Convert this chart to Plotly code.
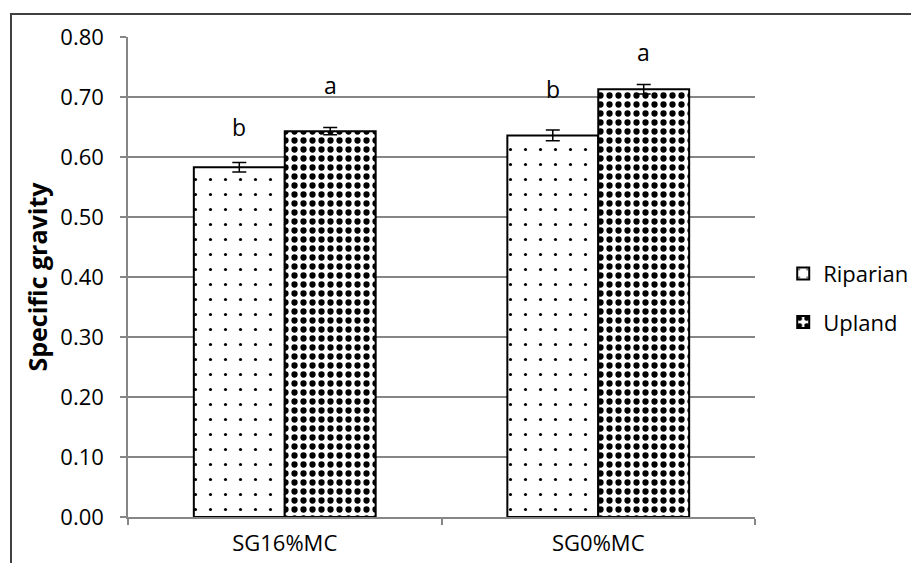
import plotly.graph_objects as go

categories = ["SG16%MC", "SG0%MC"]
series_names = ["Riparian", "Upland"]
riparian = [0.583, 0.636]
riparian_err = [0.008, 0.009]
upland = [0.643, 0.713]
upland_err = [0.006, 0.008]
riparian_letters = ["b", "b"]
upland_letters = ["a", "a"]
riparian_letter_y = [0.633, 0.697]
upland_letter_y = [0.703, 0.758]
y_ticks = [0.0, 0.1, 0.2, 0.3, 0.4, 0.5, 0.6, 0.7, 0.8]

FONT = "Open Sans"
GRID = "#868686"

# page body has an 8px margin; margins compensate so the plot lands where the reference has it
W, H = 919, 563
ML, MR, MT, MB = 120, 172, 29, 54
plot_w = W - ML - MR
plot_h = H - MT - MB

fig = go.Figure()
fig.add_trace(go.Bar(
    name=series_names[0], x=categories, y=riparian, legendgroup="r",
    marker=dict(color="white", line=dict(color="black", width=2),
                pattern=dict(shape=".", size=15, solidity=0.035,
                             fgcolor="black", bgcolor="white", fillmode="replace")),
    error_y=dict(type="data", array=riparian_err, color="black", thickness=1.5, width=7),
))
fig.add_trace(go.Bar(
    name=series_names[1], x=categories, y=upland, legendgroup="u",
    marker=dict(color="white", line=dict(color="black", width=2),
                pattern=dict(shape=".", size=9, solidity=0.38,
                             fgcolor="black", bgcolor="white", fillmode="replace")),
    error_y=dict(type="data", array=upland_err, color="black", thickness=1.5, width=7),
))

bargap = 0.42
bar_px = plot_w / len(categories) * (1 - bargap) / 2
annotations = []
for i, c in enumerate(categories):
    annotations.append(dict(x=c, y=riparian_letter_y[i], xref="x", yref="y", text=riparian_letters[i],
                            showarrow=False, xshift=-bar_px / 2, yanchor="bottom", yshift=-8,
                            font=dict(family=FONT, size=23, color="black")))
    annotations.append(dict(x=c, y=upland_letter_y[i], xref="x", yref="y", text=upland_letters[i],
                            showarrow=False, xshift=bar_px / 2, yanchor="bottom", yshift=-8,
                            font=dict(family=FONT, size=23, color="black")))

fig.update_layout(
    width=W, height=H,
    margin=dict(l=ML, r=MR, t=MT, b=MB, pad=0, autoexpand=False),
    paper_bgcolor="white", plot_bgcolor="white",
    barmode="group", bargap=bargap, bargroupgap=0,
    font=dict(family=FONT, size=22, color="black"),
    showlegend=True,
    legend=dict(x=1.045, xanchor="left", y=0.456, yanchor="middle",
                font=dict(family=FONT, size=22, color="black"),
                tracegroupgap=17, traceorder="grouped", bgcolor="rgba(0,0,0,0)",
                itemwidth=30),
    annotations=annotations,
    shapes=[dict(type="rect", xref="paper", yref="paper",
                 x0=(3 - ML) / plot_w, x1=(W + 20 - ML) / plot_w,
                 y0=-(MB + 20) / plot_h,
                 y1=1 + (MT - 6) / plot_h,
                 line=dict(color="#404040", width=2), layer="below")],
)
fig.update_yaxes(
    range=[0, 0.8], tickvals=y_ticks, tickformat=".2f",
    showgrid=True, gridcolor=GRID, gridwidth=1.5,
    showline=True, linecolor=GRID, linewidth=1.5,
    ticks="outside", ticklen=6, tickcolor=GRID, tickwidth=1.5,
    ticklabelstandoff=12, automargin=False,
    title=dict(text="<b>Specific gravity</b>", font=dict(family=FONT, size=25, color="black"), standoff=6),
    zeroline=False,
)
fig.update_xaxes(
    showline=True, linecolor=GRID, linewidth=1.5,
    ticks="outside", ticklen=6, tickcolor=GRID, tickwidth=1.5, tickson="boundaries",
    ticklabelstandoff=6, automargin=False,
    showgrid=False,
)

fig.write_html("out.html")
